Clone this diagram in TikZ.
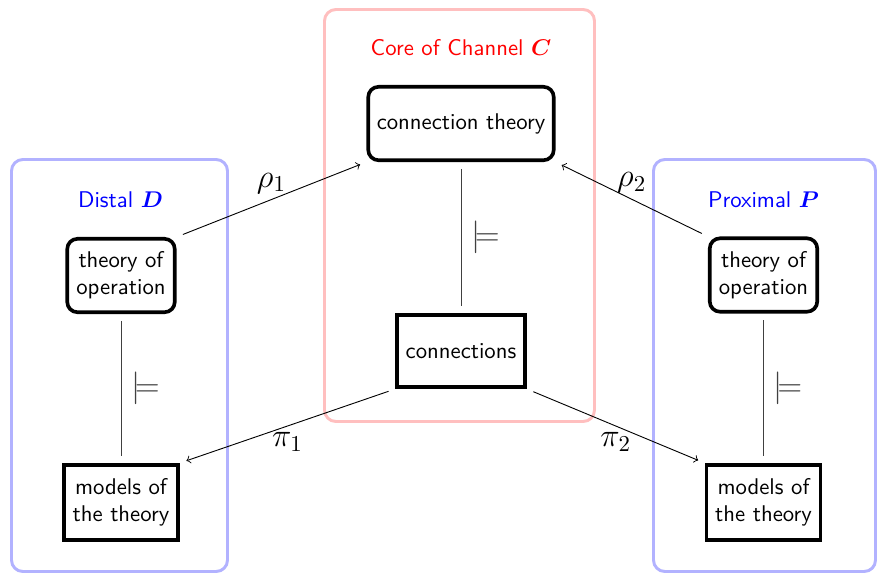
\documentclass[tikz,border=0pt]{standalone}
\usepackage{amsmath,bm}
\begin{document}
\begin{tikzpicture}[x=0.44pt,y=-0.44pt,
  box/.style={draw, ultra thick, font=\sffamily, align=center, inner sep=2pt},
  rbox/.style={box, rounded corners=4.5pt},
  container/.style={line width=1.3pt, rounded corners=5pt},
  title/.style={font=\sffamily},
  sat/.style={draw=black!75, shorten >=3pt, shorten <=3pt},
  satlabel/.style={right, font=\Large, text=black!75, xshift=1pt},
  map/.style={->, shorten >=3pt, shorten <=3pt},
  maplabel/.style={font=\Large, inner sep=2.5pt}]
  \useasboundingbox (0,0) rectangle (878,575);

  % the three frames: distal, channel core, proximal
  \draw[container, blue!30] (11.5,159.5) rectangle (227.5,571.5);
  \draw[container, red!25] (324.5,9.5) rectangle (594.5,421.5);
  \draw[container, blue!30] (653.5,159.5) rectangle (875.5,571.5);

  \node[title, text=blue] (dtitle) at (120.5,200) {Distal $\bm{D}$};
  \node[title, text=red] (ctitle) at (461,48) {Core of Channel $\bm{C}$};
  \node[title, text=blue] (ptitle) at (763.5,200) {Proximal $\bm{P}$};

  % channel core
  \node[rbox, minimum width=81.6pt, minimum height=32.3pt] (ct) at (461,123.5) {connection theory};
  \node[box, minimum width=56.5pt, minimum height=31.9pt] (cn) at (461,351) {connections};

  % distal classification
  \node[rbox, minimum width=47.3pt, minimum height=32.3pt] (dt) at (121,275.5) {theory of\\operation};
  \node[box, minimum width=50.3pt, minimum height=33.2pt] (dm) at (121,502.5) {models of\\the theory};

  % proximal classification
  \node[rbox, minimum width=47.3pt, minimum height=32.3pt] (pt) at (763.5,275) {theory of\\operation};
  \node[box, minimum width=50.3pt, minimum height=33.2pt] (pm) at (763.5,502.5) {models of\\the theory};

  % satisfaction relations
  \draw[sat] (ct) -- node[satlabel] {$\models$} (cn);
  \draw[sat] (dt) -- node[satlabel] {$\models$} (dm);
  \draw[sat] (pt) -- node[satlabel] {$\models$} (pm);

  % infomorphisms
  \draw[map] (dt.north east) -- node[maplabel, above] {$\rho_1$} (ct.south west);
  \draw[map] (pt.north west) -- node[maplabel, above] {$\rho_2$} (ct.south east);
  \draw[map] (cn.south west) -- node[maplabel, below] {$\pi_1$} (dm.north east);
  \draw[map] (cn.south east) -- node[maplabel, below] {$\pi_2$} (pm.north west);
\end{tikzpicture}
\end{document}
